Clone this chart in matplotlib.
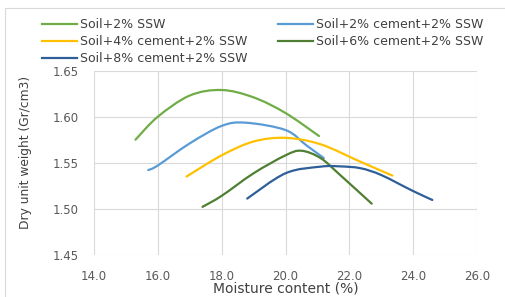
import numpy as np
import matplotlib
matplotlib.use("Agg")
import matplotlib.pyplot as plt
from matplotlib.path import Path
from matplotlib.patches import PathPatch, Rectangle
from matplotlib.lines import Line2D

plt.rcParams['font.family'] = ['DejaVu Sans']

# values
labels = ['Soil+2% SSW', 'Soil+2% cement+2% SSW', 'Soil+4% cement+2% SSW',
          'Soil+6% cement+2% SSW', 'Soil+8% cement+2% SSW']

s2_x = [15.3, 16.0, 17.0, 18.0, 19.0, 20.0, 21.05]
s2_y = [1.575, 1.600, 1.623, 1.629, 1.621, 1.604, 1.579]

c2_x = [15.7, 16.0, 17.0, 18.0, 18.75, 20.0, 20.65, 21.2]
c2_y = [1.542, 1.547, 1.571, 1.590, 1.5935, 1.5855, 1.569, 1.555]

c4_x = [16.9, 18.0, 19.0, 20.0, 21.1, 22.35, 23.35]
c4_y = [1.535, 1.558, 1.573, 1.577, 1.570, 1.551, 1.536]

c6_x = [17.4, 18.0, 19.0, 20.0, 20.5, 21.1, 21.7, 22.7]
c6_y = [1.502, 1.514, 1.5385, 1.558, 1.563, 1.555, 1.537, 1.5055]

c8_x = [18.8, 20.0, 21.1, 21.7, 22.35, 23.0, 23.95, 24.6]
c8_y = [1.511, 1.5385, 1.5457, 1.546, 1.544, 1.5366, 1.520, 1.5095]

series = [(s2_x, s2_y), (c2_x, c2_y), (c4_x, c4_y), (c6_x, c6_y), (c8_x, c8_y)]
colors = ['#70ad47', '#5b9bd5', '#ffc000', '#4f7f33', '#2f5f98']


def smooth_path(xs, ys):
    # Excel-style smoothed line: Catmull-Rom segments as cubic Beziers
    pts = np.column_stack([xs, ys])
    n = len(pts)
    verts = [pts[0]]
    codes = [Path.MOVETO]
    for i in range(n - 1):
        p0 = pts[i - 1] if i > 0 else pts[i]
        p1 = pts[i]
        p2 = pts[i + 1]
        p3 = pts[i + 2] if i + 2 < n else pts[i + 1]
        verts += [p1 + (p2 - p0) / 6, p2 - (p3 - p1) / 6, p2]
        codes += [Path.CURVE4] * 3
    return Path(verts, codes)


fig = plt.figure(figsize=(5.05, 2.97), dpi=100)
ax = fig.add_axes([94 / 505, 1 - 254.7 / 297, (477 - 94) / 505, (254.7 - 70.7) / 297])

for (xs, ys), c in zip(series, colors):
    ax.add_patch(PathPatch(smooth_path(xs, ys), fill=False, edgecolor=c,
                           lw=1.6, capstyle='round', zorder=3))

ax.set_xlim(14, 26)
ax.set_ylim(1.45, 1.65)
ax.set_xticks(np.arange(14, 26.1, 2))
ax.set_yticks(np.arange(1.45, 1.651, 0.05))
ax.xaxis.set_major_formatter(plt.FormatStrFormatter('%.1f'))
ax.yaxis.set_major_formatter(plt.FormatStrFormatter('%.2f'))
ax.grid(True, color='#d9d9d9', lw=0.8)
ax.set_axisbelow(True)
for sp in ax.spines.values():
    sp.set_visible(False)
ax.tick_params(length=0, labelsize=8.5, colors='#595959', pad=11)
ax.tick_params(axis='x', pad=11)

ax.set_xlabel('Moisture content (%)', fontsize=10, color='#404040', labelpad=-1)
fig.text(26 / 505, 1 - 152.5 / 297, 'Dry unit weight (Gr/cm3)', rotation=90,
         ha='center', va='center', fontsize=8.8, color='#404040')

# legend, two columns filled row by row
handles = [Line2D([], [], color=c, lw=1.6) for c in colors]
order = [0, 2, 4, 1, 3]
fig.legend([handles[i] for i in order], [labels[i] for i in order],
           ncol=2, loc='upper left', bbox_to_anchor=(42 / 505, 1 - 18.5 / 297),
           frameon=False, fontsize=9, handlelength=2.8, handletextpad=0.25,
           columnspacing=2.4, labelspacing=0.3, borderpad=0, borderaxespad=0,
           labelcolor='#404040')

fig.patches.append(Rectangle((5 / 505, -0.1), 1.2, 0.1 + 1 - 8 / 297,
                             transform=fig.transFigure, fill=False,
                             edgecolor='#d9d9d9', lw=0.8))

fig.savefig('out.png', dpi=100)
